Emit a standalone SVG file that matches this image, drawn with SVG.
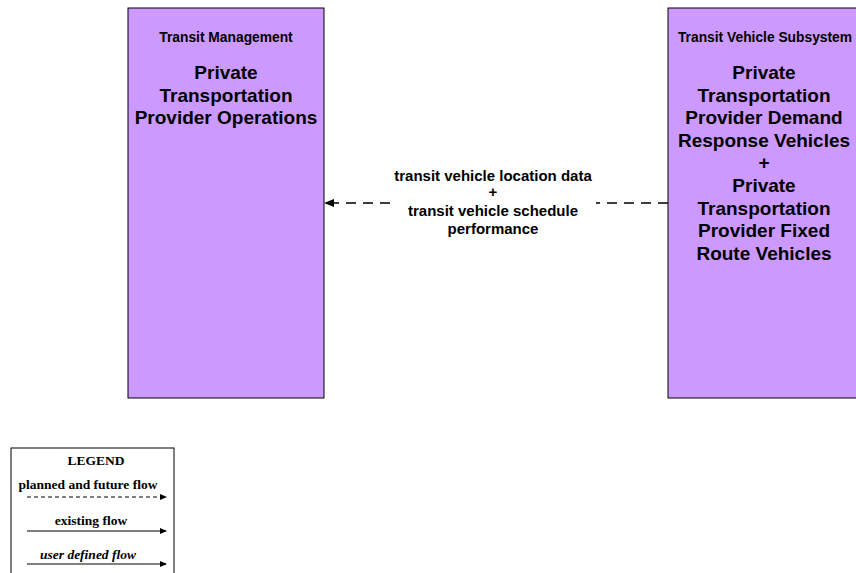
<svg xmlns="http://www.w3.org/2000/svg" width="856" height="573" viewBox="0 0 856 573">
<style>
.box{fill:#CC99FF;stroke:#000;stroke-width:1}
.t{font-family:"Liberation Sans",Arial,sans-serif;font-weight:bold;text-anchor:middle;fill:#000}
.s{font-size:13.8px}
.b{font-size:19px}
.f{font-size:15px}
.lg{font-family:"Liberation Serif","Times New Roman",serif;font-weight:bold;text-anchor:middle;fill:#000;font-size:13.5px}
.flow{stroke:#000;stroke-width:1.5;fill:none}
</style>
<defs>
<marker id="ah" markerWidth="10" markerHeight="8" refX="9" refY="4" orient="auto" markerUnits="userSpaceOnUse">
<path d="M0,0 L10,4 L0,8 Z" fill="#000"/>
</marker>
<marker id="ahs" markerWidth="7" markerHeight="6" refX="6" refY="3" orient="auto" markerUnits="userSpaceOnUse">
<path d="M0,0 L7,3 L0,6 Z" fill="#000"/>
</marker>
</defs>
<rect x="0" y="0" width="856" height="573" fill="#fff"/>
<g id="node-tm">
<rect class="box" x="128" y="8" width="196" height="390"/>
<text class="t s" x="226" y="42">Transit Management</text>
<text class="t b" x="226" y="79">Private</text>
<text class="t b" x="226" y="102">Transportation</text>
<text class="t b" x="226" y="124">Provider Operations</text>
</g>
<g id="node-tvs">
<rect class="box" x="668" y="8" width="196" height="390"/>
<text class="t s" x="765" y="42">Transit Vehicle Subsystem</text>
<text class="t b" x="764" y="79">Private</text>
<text class="t b" x="764" y="102">Transportation</text>
<text class="t b" x="764" y="124">Provider Demand</text>
<text class="t b" x="764" y="147">Response Vehicles</text>
<text class="t b" x="764" y="169">+</text>
<text class="t b" x="764" y="192">Private</text>
<text class="t b" x="764" y="215">Transportation</text>
<text class="t b" x="764" y="237">Provider Fixed</text>
<text class="t b" x="764" y="260">Route Vehicles</text>
</g>
<g id="connectors">
<path class="flow" d="M668,203 H596 M390,203 H325" stroke-dasharray="10,7" marker-end="url(#ah)"/>
<text class="t f" x="493" y="181">transit vehicle location data</text>
<text class="t f" x="493" y="197">+</text>
<text class="t f" x="493" y="216">transit vehicle schedule</text>
<text class="t f" x="493" y="234">performance</text>
</g>
<g id="legend">
<rect x="11" y="448" width="163" height="130" fill="#fff" stroke="#000" stroke-width="1"/>
<text class="lg" x="96" y="465">LEGEND</text>
<text class="lg" x="88" y="489">planned and future flow</text>
<line x1="27" y1="497" x2="166" y2="497" stroke="#000" stroke-width="1" stroke-dasharray="4,3" marker-end="url(#ahs)"/>
<text class="lg" x="91" y="525">existing flow</text>
<line x1="27" y1="531" x2="166" y2="531" stroke="#000" stroke-width="1" marker-end="url(#ahs)"/>
<text class="lg" x="88" y="559" font-style="italic">user defined flow</text>
<line x1="27" y1="564" x2="166" y2="564" stroke="#000" stroke-width="1.2" marker-end="url(#ahs)"/>
</g>
</svg>
